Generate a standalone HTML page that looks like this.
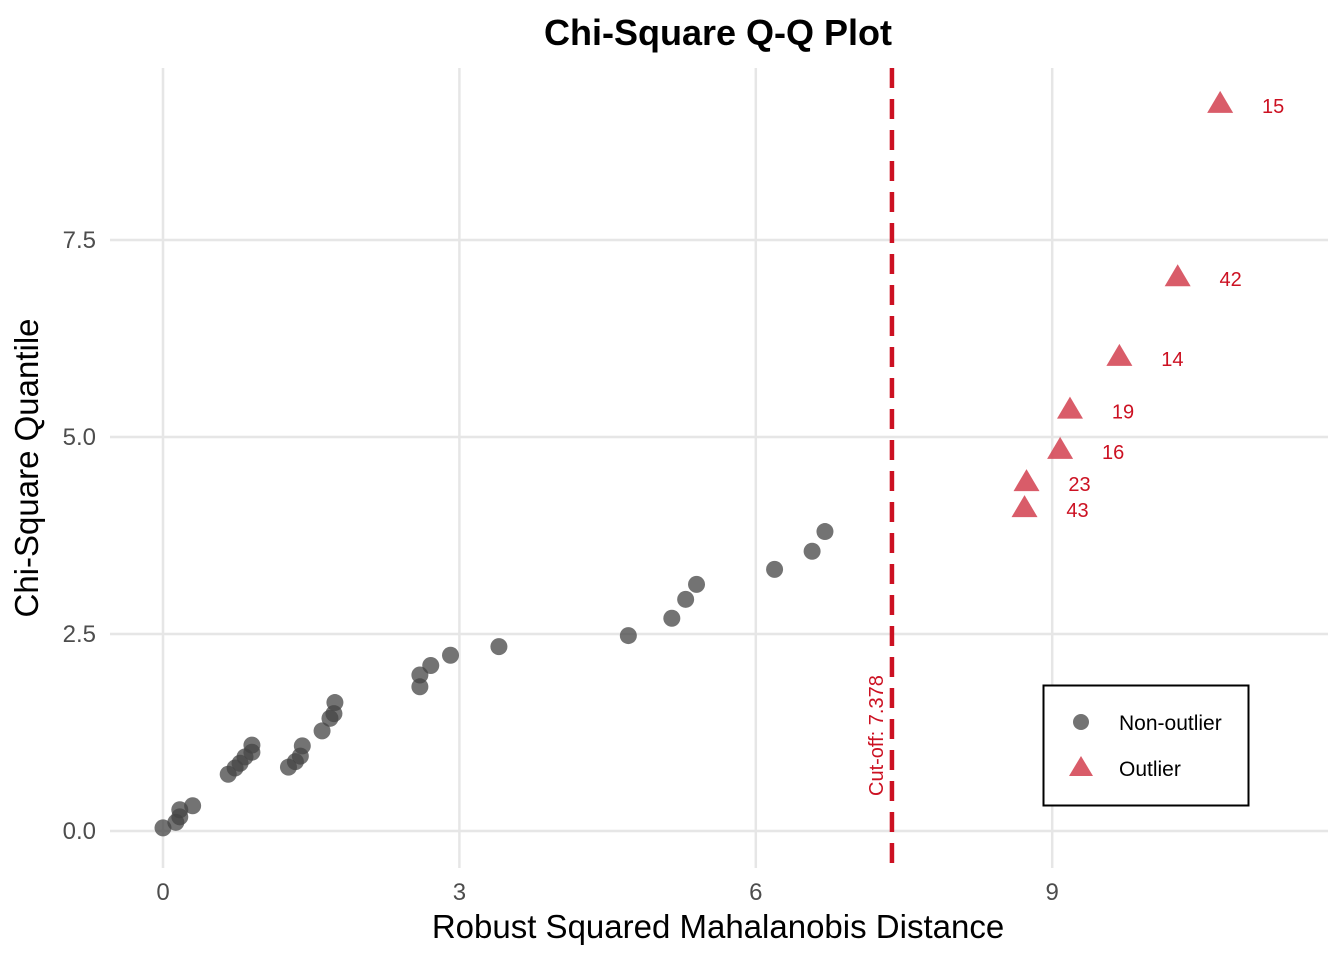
<!DOCTYPE html>
<html><head><meta charset="utf-8"><style>
body{margin:0;background:#fff;font-family:"Liberation Sans",Arial,sans-serif}
svg text{font-family:"Liberation Sans",Arial,sans-serif}
</style></head><body>
<svg id="chart" width="1344" height="960">
<text x="718" y="45" text-anchor="middle" font-size="36" font-weight="bold">Chi-Square Q-Q Plot</text>
<g id="grid"></g>
<g id="marks"></g>
<text x="718" y="938" text-anchor="middle" font-size="33">Robust Squared Mahalanobis Distance</text>
<text transform="translate(38,468) rotate(-90)" text-anchor="middle" font-size="33">Chi-Square Quantile</text>
<g>
<rect x="1043.5" y="685.5" width="205" height="120" fill="#fff" stroke="#000" stroke-width="2"/>
<circle cx="1081" cy="722" r="8" fill="#444" fill-opacity="0.75"/>
<text x="1119" y="730" font-size="21">Non-outlier</text>
<polygon points="1081,756 1093,776 1069,776" fill="#d2404f" fill-opacity="0.85"/>
<text x="1119" y="776" font-size="21">Outlier</text>
</g>
</svg>
<script>
const xTicks=[0,3,6,9];
const yTicks=[0,2.5,5,7.5];
const yTickLabels=["0.0","2.5","5.0","7.5"];
const cutoff=7.378;
const inX=[0,0.13,0.17,0.17,0.30,0.66,0.73,0.78,0.83,0.90,0.90,1.27,1.34,1.39,1.41,1.61,1.69,1.73,1.74,2.60,2.60,2.71,2.91,3.40,4.71,5.15,5.29,5.40,6.19,6.57,6.70];
const inY=[0.04,0.11,0.18,0.27,0.32,0.72,0.80,0.86,0.94,1.00,1.09,0.81,0.88,0.95,1.08,1.27,1.43,1.49,1.63,1.83,1.98,2.10,2.23,2.34,2.48,2.70,2.94,3.13,3.32,3.55,3.80];
const outX=[10.70,10.27,9.68,9.18,9.08,8.74,8.72];
const outY=[9.24,7.04,6.03,5.36,4.85,4.44,4.11];
const outLabels=["15","42","14","19","16","23","43"];
const NS="http://www.w3.org/2000/svg";
const sx=v=>163+v*98.8, sy=v=>831-v*78.8;
function mk(tag,attrs,parent,txt){const e=document.createElementNS(NS,tag);for(const k in attrs)e.setAttribute(k,attrs[k]);if(txt!==undefined)e.textContent=txt;parent.appendChild(e);return e;}
const grid=document.getElementById('grid'),marks=document.getElementById('marks');
xTicks.forEach(t=>{
 const l=mk('line',{x1:sx(t),x2:sx(t),y1:68,y2:868,stroke:'#e6e6e6','stroke-width':2.5},grid);
 
 
 const tx=mk('text',{x:sx(t),y:900,'text-anchor':'middle','font-size':24,fill:'#4d4d4d'},grid,String(t));
 
 
});
yTicks.forEach((t,i)=>{
 const l=mk('line',{x1:110,x2:1328,y1:sy(t),y2:sy(t),stroke:'#e6e6e6','stroke-width':2.5},grid);
 
 
 const tx=mk('text',{x:96,y:sy(t)+8,'text-anchor':'end','font-size':24,fill:'#4d4d4d'},grid,yTickLabels[i]);
 
 
});
const cl=mk('line',{x1:sx(cutoff),x2:sx(cutoff),y1:68,y2:868,stroke:'#cc1122','stroke-width':4.5,'stroke-dasharray':'20,11'},marks);


const ct=mk('text',{transform:`translate(${sx(cutoff)-9},796) rotate(-90)`,'font-size':20,fill:'#cc1122'},marks,'Cut-off: '+cutoff.toFixed(3));


inX.forEach((x,i)=>{
 const c=mk('circle',{cx:sx(x),cy:sy(inY[i]),r:8.5,fill:'#444','fill-opacity':0.75},marks);
 
 
});
outX.forEach((x,i)=>{
 const px=sx(x),py=sy(outY[i]);
 const p=mk('polygon',{points:`${px},${py-12} ${px+13},${py+10} ${px-13},${py+10}`,fill:'#d2404f','fill-opacity':0.85},marks);
 
 
 const t=mk('text',{x:px+53,y:py+10,'text-anchor':'middle','font-size':20,fill:'#cc1122'},marks,outLabels[i]);
 
 
});
</script>
</body></html>
